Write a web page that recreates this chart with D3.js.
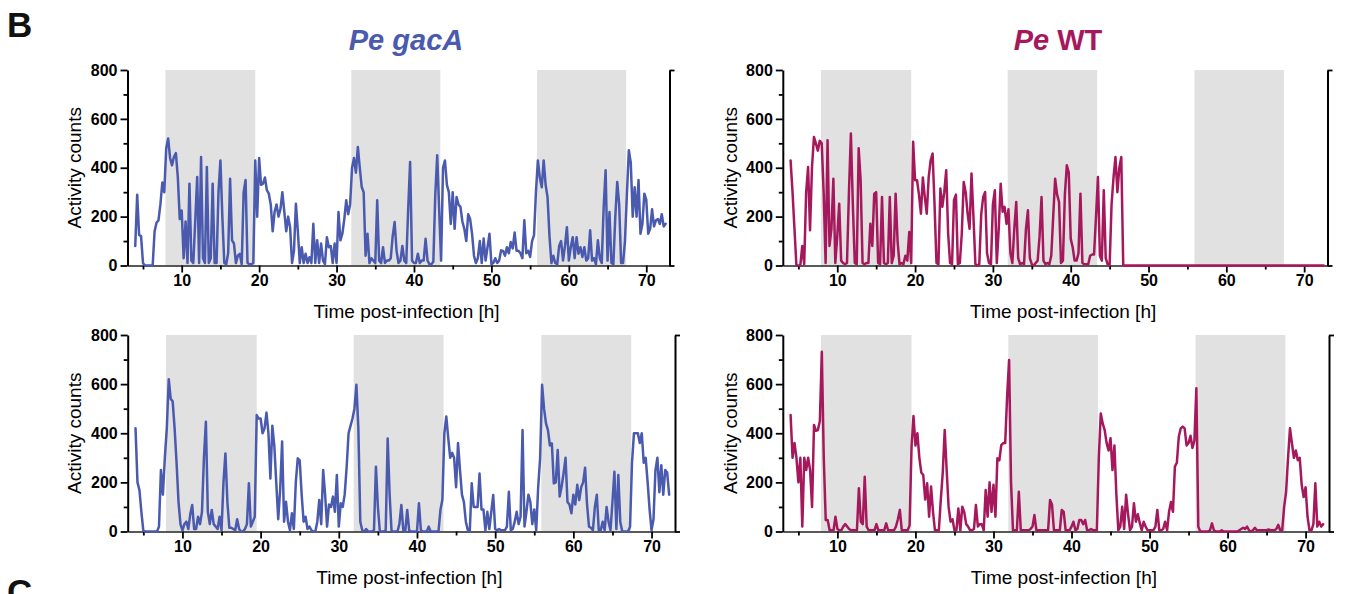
<!DOCTYPE html>
<html><head><meta charset="utf-8">
<script src="https://cdn.jsdelivr.net/npm/d3@7/dist/d3.min.js"></script>
<style>body{margin:0;background:#fff}svg{display:block}</style>
</head><body>
<svg id="chart" width="1351" height="594"></svg>
<script>
// sampling grid (hours post-infection)
const startHour = 4, stepHour = 0.25;
const xTickLabels = [10, 20, 30, 40, 50, 60, 70];
const xMinorTicks = [5, 15, 25, 35, 45, 55, 65];
const yTickLabels = [0, 200, 400, 600, 800];
const yMinorTicks = [100, 300, 500, 700];
const darkPeriods = [[7.9, 19.5], [31.9, 43.4], [55.9, 67.4]];

const gacA_top = [
 80,290,125,120,10,0,0,0,0,0,140,175,
 185,250,340,300,480,520,440,410,445,460,360,190,
 225,30,180,10,335,20,10,185,362,10,444,30,
 10,403,10,30,335,10,10,300,430,200,10,5,
 50,355,103,90,10,40,48,5,300,350,10,5,
 5,10,430,200,440,330,335,360,308,294,250,140,
 220,250,200,230,300,220,140,200,157,10,60,253,
 140,10,75,10,48,10,34,10,171,10,103,10,
 90,20,5,116,75,80,10,90,10,219,103,130,
 190,267,210,250,400,440,380,485,400,321,300,40,
 130,10,30,20,10,267,20,10,75,10,20,20,
 30,120,178,60,10,20,80,20,10,230,424,20,
 10,10,48,10,20,20,109,20,5,5,15,290,
 451,230,20,400,430,330,300,170,300,150,280,250,
 240,180,150,100,210,190,130,40,10,30,100,10,
 110,20,75,130,5,10,30,10,20,62,60,40,
 75,50,96,70,135,60,60,50,30,185,50,60,
 35,100,123,300,430,360,320,430,330,280,120,10,
 40,10,5,80,100,20,80,157,20,75,116,30,
 116,48,75,35,75,20,30,144,20,30,5,103,
 30,10,240,390,20,219,10,5,200,342,250,10,
 10,100,294,472,420,200,320,200,350,130,170,294,
 270,130,150,230,160,185,190,170,210,160,171
];

const wt_top = [
 430,300,150,0,0,0,80,5,300,403,144,400,
 526,500,470,510,500,300,10,513,80,150,355,10,
 120,253,20,10,5,10,300,540,250,10,5,480,
 350,10,5,10,10,171,80,294,300,10,5,280,
 10,5,10,280,10,40,294,100,5,10,5,40,
 20,137,10,506,349,349,290,212,360,280,212,362,
 430,458,250,10,5,315,240,300,390,130,10,5,
 267,290,5,10,130,342,300,212,150,376,200,5,
 0,5,210,280,301,50,10,5,250,308,10,150,
 335,220,240,170,230,50,10,150,260,30,5,10,
 5,150,226,30,5,0,10,20,120,280,20,5,
 10,5,40,200,355,290,260,10,20,290,410,380,
 110,75,20,20,50,294,10,5,5,5,40,45,
 45,200,362,40,20,308,30,5,0,250,360,444,
 300,400,444,0,
 0,0,0,0,0,0,0,0,0,0,0,0,
 0,0,0,0,0,0,0,0,0,0,0,0,
 0,0,0,0,0,0,0,0,0,0,0,0,
 0,0,0,0,0,0,0,0,0,0,0,0,
 0,0,0,0,0,0,0,0,0,0,0,0,
 0,0,0,0,0,0,0,0,0,0,0,0,
 0,0,0,0,0,0,0,0,0,0,0,0,
 0,0,0,0,0,0,0,0,0,0,0,0,
 0,0,0,0,0,0,0
];

const gacA_bottom = [
 420,200,169,80,3,0,0,0,0,0,0,0,
 20,250,150,300,420,620,540,530,420,280,120,30,
 5,30,40,10,70,108,10,10,60,30,80,
 300,447,80,30,88,30,20,10,60,5,200,318,
 120,15,15,10,5,50,10,0,0,10,30,196,
 20,40,60,474,460,460,400,420,484,400,216,431,
 350,200,50,170,366,40,121,40,5,74,10,200,
 298,290,150,40,60,10,20,
 5,0,0,40,128,
 30,250,150,20,110,100,142,80,230,20,115,100,
 150,260,400,430,460,500,597,420,40,5,0,10,
 0,0,0,5,264,100,0,0,0,5,379,150,
 0,0,0,0,30,108,5,0,88,5,0,
 0,0,0,115,5,0,0,0,20,0,0,0,
 0,0,88,130,399,468,380,300,320,300,180,360,
 250,150,120,40,5,0,196,100,100,100,236,90,
 90,5,80,10,80,149,10,5,10,5,5,5,
 20,162,5,10,40,80,30,60,413,20,80,150,
 120,30,90,5,180,300,597,500,440,413,350,359,
 196,200,332,142,183,237,300,120,110,74,150,110,
 190,128,180,200,260,110,20,15,5,100,150,
 5,5,40,5,100,40,5,120,243,10,230,40,
 0,0,0,0,20,280,400,400,400,360,400,280,
 300,200,90,5,50,250,300,160,270,150,250,240,150
];

const wt_bottom = [
 474,300,360,300,200,300,20,300,250,300,250,100,
 434,410,413,450,732,300,47,47,5,5,5,60,
 10,5,5,20,30,20,10,5,5,5,5,176,
 40,30,223,20,5,5,5,5,30,5,5,5,
 5,33,5,5,5,5,20,50,88,5,5,5,
 5,25,345,470,350,400,300,240,230,130,196,60,
 183,80,5,5,5,130,240,413,250,100,40,50,
 5,5,94,5,101,80,
 30,20,5,5,10,108,
 20,30,30,5,169,60,200,80,190,60,298,290,
 352,360,360,550,698,200,5,5,5,162,5,5,
 5,5,5,10,20,67,5,5,5,5,5,5,
 5,128,110,5,5,5,5,88,80,5,5,5,
 20,40,5,10,47,47,30,47,5,5,10,5,
 5,5,300,480,440,413,360,330,380,250,350,150,
 5,20,101,10,150,70,5,20,115,40,70,35,
 5,40,
 20,5,5,5,5,20,88,5,5,10,
 40,5,80,120,80,264,280,386,420,427,420,350,
 360,390,340,370,583,20,0,0,0,0,0,5,
 33,5,0,0,0,5,0,0,0,0,0,0,
 0,0,5,10,15,10,20,5,0,5,15,5,
 5,5,5,5,5,8,5,5,5,10,27,5,
 5,100,160,300,420,360,300,330,290,300,190,140,
 180,60,5,5,30,196,20,40,20,30
];

const BLUE = "#4a5aae", MAGENTA = "#a5195c", BAND = "#e1e1e1";
const FONT = "'Liberation Sans', Arial, Helvetica, sans-serif";

const panels = [
  {data: gacA_top,    color: BLUE,    x0: 127.5, x1: 669.5, yTop: 70,  yBot: 265.5, labX: 81},
  {data: wt_top,      color: MAGENTA, x0: 782.8, x1: 1327.5, yTop: 70, yBot: 265.5, labX: 737},
  {data: gacA_bottom, color: BLUE,    x0: 127.7, x1: 675,   yTop: 335, yBot: 531.5, labX: 81},
  {data: wt_bottom,   color: MAGENTA, x0: 782.8, x1: 1329,  yTop: 335, yBot: 531.5, labX: 737}
];

const svg = d3.select("#chart");

panels.forEach(p => {
  const x = d3.scaleLinear().domain([3, 73]).range([p.x0, p.x1]);
  const y = d3.scaleLinear().domain([0, 800]).range([p.yBot, p.yTop]);
  const g = svg.append("g");

  // dark-period bands
  g.selectAll("rect.band").data(darkPeriods).join("rect")
    .attr("x", d => x(d[0])).attr("width", d => x(d[1]) - x(d[0]))
    .attr("y", y(800)).attr("height", y(0) - y(800))
    .attr("fill", BAND);

  // x axis
  const gx = g.append("g").attr("transform", `translate(0,${y(0)})`);
  gx.call(d3.axisBottom(x).tickValues(xTickLabels).tickSize(7).tickSizeOuter(0).tickPadding(2));
  gx.append("g").call(d3.axisBottom(x).tickValues(xMinorTicks).tickSize(4).tickFormat("").tickSizeOuter(0))
    .select(".domain").remove();
  gx.select(".domain").attr("stroke", "#222").attr("stroke-width", 1.6);

  // left y axis
  const gy = g.append("g").attr("transform", `translate(${p.x0},0)`);
  gy.call(d3.axisLeft(y).tickValues(yTickLabels).tickSize(7).tickSizeOuter(0).tickPadding(3));
  gy.append("g").call(d3.axisLeft(y).tickValues(yMinorTicks).tickSize(4).tickFormat("").tickSizeOuter(0))
    .select(".domain").remove();
  gy.select(".domain").attr("stroke", "#000").attr("stroke-width", 2);

  // right axis
  const gr = g.append("g").attr("transform", `translate(${p.x1},0)`);
  gr.call(d3.axisRight(y).tickValues([0, 800]).tickSize(5).tickFormat("").tickSizeOuter(0));
  gr.select(".domain").attr("stroke", "#000").attr("stroke-width", 2);

  [gx, gy, gr].forEach(a => {
    a.selectAll(".tick line").attr("stroke", "#000").attr("stroke-width", 1.8);
    a.selectAll(".tick text").attr("fill", "#000").style("font-family", FONT)
      .style("font-size", "16px").style("font-weight", "bold");
  });

  // data line
  const line = d3.line().x((d, i) => x(startHour + i * stepHour)).y(d => y(d));
  g.append("path").datum(p.data).attr("d", line)
    .attr("fill", "none").attr("stroke", p.color).attr("stroke-width", 2.5)
    .attr("stroke-linejoin", "round").attr("stroke-linecap", "round");

  // axis titles
  g.append("text").attr("transform", `translate(${p.labX},${(p.yTop + p.yBot) / 2}) rotate(-90)`)
    .attr("text-anchor", "middle").style("font-family", FONT).style("font-size", "19px")
    .text("Activity counts");
  g.append("text").attr("x", (p.x0 + p.x1) / 2 + 8).attr("y", p.yBot + 52)
    .attr("text-anchor", "middle").style("font-family", FONT).style("font-size", "19px")
    .text("Time post-infection [h]");
});

// panel titles
svg.append("text").attr("x", 406).attr("y", 50).attr("text-anchor", "middle")
  .style("font-family", FONT).style("font-size", "29px").style("font-weight", "bold")
  .style("font-style", "italic").attr("fill", BLUE).text("Pe gacA");
const t2 = svg.append("text").attr("x", 1058).attr("y", 50).attr("text-anchor", "middle")
  .style("font-family", FONT).style("font-size", "29px").style("font-weight", "bold")
  .attr("fill", MAGENTA);
t2.append("tspan").style("font-style", "italic").text("Pe");
t2.append("tspan").text(" WT");

// figure letters
svg.append("text").attr("x", 7).attr("y", 37).style("font-family", FONT)
  .style("font-size", "35px").style("font-weight", "bold").attr("fill", "#111").text("B");
svg.append("text").attr("x", 7).attr("y", 604).style("font-family", FONT)
  .style("font-size", "35px").style("font-weight", "bold").attr("fill", "#111").text("C");
</script>
</body></html>
